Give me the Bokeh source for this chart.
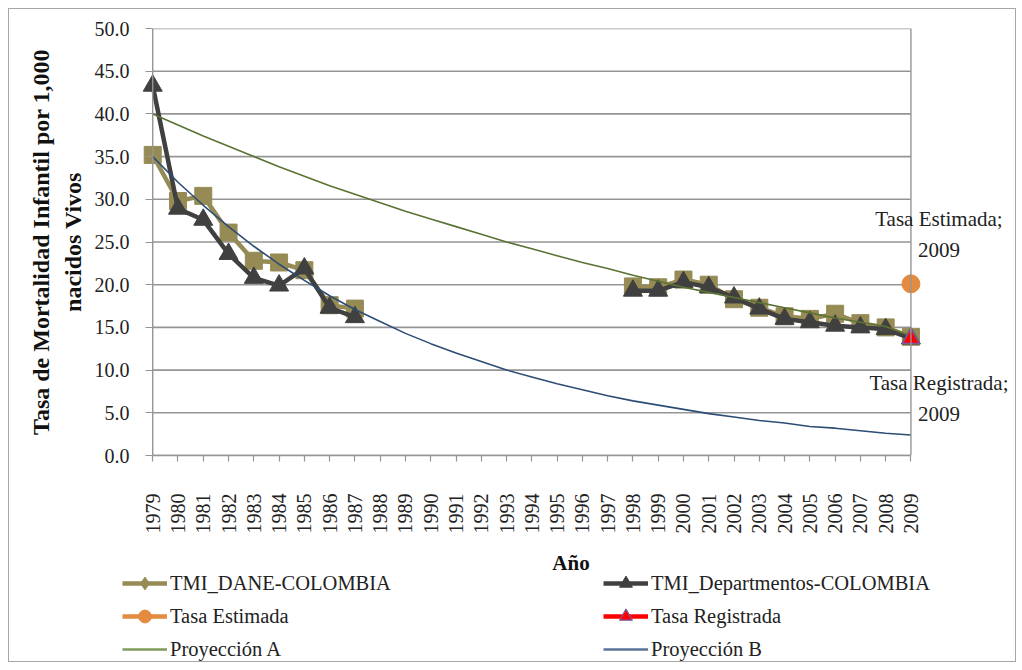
import math
from bokeh.plotting import figure
from bokeh.layouts import column
from bokeh.models import (ColumnDataSource, Range1d, FixedTicker,
                          PrintfTickFormatter, Legend, LegendItem, Label, Span)
from bokeh.embed import file_html
from bokeh.resources import INLINE

nan = float("nan")

years = list(range(1979, 2010))

dane = [35.2, 29.8, 30.4, 26.1, 22.8, 22.6, 21.7, 17.6, 17.2,
        nan, nan, nan, nan, nan, nan, nan, nan, nan, nan,
        19.8, 19.7, 20.6, 20.0, 18.3, 17.3, 16.3, 16.0, 16.6, 15.5, 15.0, 13.9]

deptos = [43.3, 28.9, 27.6, 23.6, 20.8, 19.9, 21.9, 17.3, 16.2,
          nan, nan, nan, nan, nan, nan, nan, nan, nan, nan,
          19.3, 19.3, 20.3, 19.7, 18.5, 17.2, 16.0, 15.6, 15.2, 15.0, 14.8, 13.7]

proy_a = [40.0, 38.7, 37.4, 36.2, 35.0, 33.8, 32.7, 31.6, 30.6, 29.6,
          28.6, 27.7, 26.8, 25.9, 25.0, 24.2, 23.4, 22.6, 21.9, 21.1,
          20.4, 19.7, 19.1, 18.5, 17.9, 17.3, 16.7, 16.1, 15.6, 15.1, 14.0]

proy_b = [35.0, 32.0, 29.3, 26.8, 24.5, 22.4, 20.5, 18.7, 17.1, 15.7,
          14.3, 13.1, 12.0, 11.0, 10.0, 9.2, 8.4, 7.7, 7.0, 6.4,
          5.9, 5.4, 4.9, 4.5, 4.1, 3.8, 3.4, 3.2, 2.9, 2.6, 2.4]

est_year = [2009]
est_val = [20.1]
reg_year = [2009]
reg_val = [13.7]

y_ticks = [0, 5, 10, 15, 20, 25, 30, 35, 40, 45, 50]

C_DANE = "#968B55"
C_DEP = "#404040"
C_A = "#5A7233"
C_B = "#2C4D75"
C_EST = "#E38B3E"
C_REG = "#FF0000"
C_REG_LINE = "#7A5C9E"
GRID = "#959595"
FONT = "Liberation Serif"

W = 1006
H_MAIN = 559
H_LEG = 99
pad_l = 0.8
pad_r = 3.9
p = figure(output_backend="svg", toolbar_location=None,
           width=W, height=H_MAIN,
           frame_width=877, frame_height=427,
           min_border_left=123, min_border_right=6,
           min_border_top=19, min_border_bottom=H_MAIN - 19 - 427,
           x_range=Range1d(years[0] - pad_l, years[-1] + pad_r),
           y_range=Range1d(y_ticks[0], y_ticks[-1]))
p.outline_line_color = None
p.background_fill_color = "white"
p.border_fill_color = "white"
p.xgrid.visible = False
p.ygrid.visible = False

# horizontal grid lines across the year span, plus the plot-area sides
p.segment(x0=[years[0]] * len(y_ticks), x1=[years[-1]] * len(y_ticks),
          y0=y_ticks, y1=y_ticks, line_color=GRID, line_width=1.6)
p.add_layout(Span(location=years[-1], dimension="height",
                  line_color=GRID, line_width=1.4))
p.add_layout(Span(location=years[0], dimension="height",
                  line_color=GRID, line_width=1.4))

src = ColumnDataSource(dict(x=years, dane=dane, dep=deptos, a=proy_a, b=proy_b))

p.line("x", "dane", source=src, line_color=C_DANE, line_width=4.5)
p.scatter("x", "dane", source=src, marker="square", size=17,
          fill_color=C_DANE, line_color=C_DANE)

p.line("x", "dep", source=src, line_color=C_DEP, line_width=4.5)
p.scatter("x", "dep", source=src, marker="triangle", size=19,
          fill_color=C_DEP, line_color=C_DEP)

p.line("x", "a", source=src, line_color=C_A, line_width=1.6)
p.line("x", "b", source=src, line_color=C_B, line_width=1.6)

p.scatter(est_year, est_val, marker="circle", size=18,
          fill_color=C_EST, line_color=C_EST)
p.scatter(reg_year, reg_val, marker="triangle", size=17,
          fill_color=C_REG, line_color=C_REG_LINE, line_width=1.5)

# axes
xax = p.xaxis[0]
xax.ticker = FixedTicker(ticks=years)
xax.bounds = (years[0], years[-1])
xax.major_label_orientation = math.pi / 2
xax.axis_label = "Año"

yax = p.yaxis[0]
yax.ticker = FixedTicker(ticks=y_ticks)
yax.formatter = PrintfTickFormatter(format="%.1f")
yax.axis_label = "Tasa de Mortalidad Infantil por 1,000\nnacidos Vivos"

for ax in (xax, yax):
    ax.axis_line_color = GRID
    ax.axis_line_width = 1.4
    ax.major_tick_line_color = GRID
    ax.major_tick_line_width = 1.2
    ax.minor_tick_line_color = None
    ax.major_label_text_font = FONT
    ax.major_label_text_color = "#222222"
    ax.axis_label_text_font = FONT
    ax.axis_label_text_font_style = "bold"
    ax.axis_label_text_color = "#111111"

xax.major_tick_in = 0
xax.major_tick_out = 6
xax.major_label_text_font_size = "20px"
xax.major_label_standoff = 32
xax.axis_label_standoff = 14
xax.axis_label_text_font_size = "21px"

yax.axis_line_color = None
yax.major_tick_in = 20
yax.major_tick_out = -13
yax.major_label_text_font_size = "20px"
yax.major_label_standoff = 3
yax.axis_label_standoff = 6
yax.axis_label_text_font_size = "24px"

# annotations
lbl_kw = dict(text_font=FONT, text_font_size="21px", text_color="#222222",
              text_align="center", text_baseline="middle", text_line_height=1.3)
p.add_layout(Label(x=est_year[0], y=est_val[0], x_offset=28, y_offset=49,
                   text="Tasa Estimada;\n2009", **lbl_kw))
p.add_layout(Label(x=reg_year[0], y=reg_val[0], x_offset=28, y_offset=-60,
                   text="Tasa Registrada;\n2009", **lbl_kw))

# legend strip (its ranges leave the proxy glyphs' data out of view)
q = figure(output_backend="svg", toolbar_location=None,
           width=W, height=H_LEG, frame_width=W, frame_height=H_LEG,
           min_border=0, x_range=Range1d(0, 1), y_range=Range1d(0, 1),
           x_axis_location=None, y_axis_location=None)
q.outline_line_color = None
q.xgrid.visible = False
q.ygrid.visible = False
q.border_fill_alpha = 0
q.background_fill_alpha = 0
q.styles = {"margin-top": "-15px"}

lsrc = ColumnDataSource(dict(x=years, dane=dane, dep=deptos, a=proy_a, b=proy_b,
                             est=[est_val[0]] * len(years), reg=[reg_val[0]] * len(years)))
l_dane = q.line("x", "dane", source=lsrc, line_color=C_DANE, line_width=4.5)
m_dane = q.scatter("x", "dane", source=lsrc, marker="diamond",
                   fill_color=C_DANE, line_color=C_DANE)
l_dep = q.line("x", "dep", source=lsrc, line_color=C_DEP, line_width=4.5)
m_dep = q.scatter("x", "dep", source=lsrc, marker="triangle",
                  fill_color=C_DEP, line_color=C_DEP)
l_est = q.line("x", "est", source=lsrc, line_color=C_EST, line_width=4.5)
m_est = q.scatter("x", "est", source=lsrc, marker="circle",
                  fill_color=C_EST, line_color=C_EST)
l_reg = q.line("x", "reg", source=lsrc, line_color=C_REG, line_width=4.5)
m_reg = q.scatter("x", "reg", source=lsrc, marker="triangle",
                  fill_color=C_REG, line_color=C_REG_LINE, line_width=1.2)
l_a = q.line("x", "a", source=lsrc, line_color="#7F9A5A", line_width=2.5)
l_b = q.line("x", "b", source=lsrc, line_color="#5A7396", line_width=2.5)

leg_kw = dict(orientation="vertical", padding=0, margin=0,
              border_line_color=None, background_fill_alpha=0,
              label_text_font=FONT, label_text_font_size="20.5px",
              label_text_color="#222222",
              glyph_width=45, glyph_height=32, label_height=20,
              label_standoff=3, spacing=1)
leg1 = Legend(items=[LegendItem(label="TMI_DANE-COLOMBIA", renderers=[l_dane, m_dane]),
                     LegendItem(label="Tasa Estimada", renderers=[l_est, m_est]),
                     LegendItem(label="Proyección A", renderers=[l_a])],
              location=(113, -4), **leg_kw)
leg2 = Legend(items=[LegendItem(label="TMI_Departmentos-COLOMBIA", renderers=[l_dep, m_dep]),
                     LegendItem(label="Tasa Registrada", renderers=[l_reg, m_reg]),
                     LegendItem(label="Proyección B", renderers=[l_b])],
              location=(594, -4), **leg_kw)
q.add_layout(leg1, "center")
q.add_layout(leg2, "center")

layout = column(p, q, spacing=0)
layout.styles = {"border": "1px solid #A6A6A6", "margin": "8px",
                 "width": "fit-content", "background-color": "white"}

open("out.html", "w").write(file_html(layout, INLINE))
